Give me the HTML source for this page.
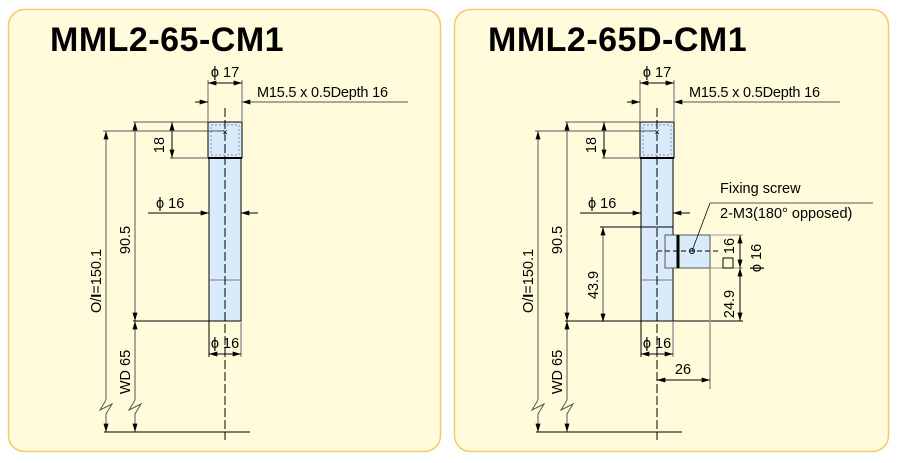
<!DOCTYPE html>
<html><head><meta charset="utf-8"><style>
html,body{margin:0;padding:0;background:#fff;}
svg{display:block;font-family:"Liberation Sans",sans-serif;}
</style></head><body>
<svg width="898" height="463" viewBox="0 0 898 463" xmlns="http://www.w3.org/2000/svg">
<defs>
<marker id="a" viewBox="0 0 10 6" refX="10" refY="3" markerWidth="9" markerHeight="5" orient="auto-start-reverse" markerUnits="userSpaceOnUse"><path d="M0,0 L10,3 L0,6 Z" fill="#000"/></marker>
<g id="base">
 <rect x="209" y="158" width="32" height="163" fill="#d9ebfb" stroke="#000" stroke-width="1"/>
 <rect x="208" y="122" width="34" height="36" fill="#d9ebfb" stroke="#000" stroke-width="1"/>
 <rect x="211" y="125" width="28" height="30" fill="none" stroke="#777" stroke-width="0.7" stroke-dasharray="2,2"/>
 <line x1="208" y1="158" x2="242" y2="158" stroke="#000" stroke-width="2"/>
 <text x="225" y="135" font-size="9" text-anchor="middle">×</text>
 <line x1="209" y1="280" x2="241" y2="280" stroke="#555" stroke-width="0.8"/>
 <line x1="225" y1="108" x2="225" y2="440" stroke="#000" stroke-width="1" stroke-dasharray="9,3"/>
 <line x1="208" y1="80" x2="208" y2="122" stroke="#999" stroke-width="1.5"/>
 <line x1="242" y1="80" x2="242" y2="122" stroke="#999" stroke-width="1.5"/>
 <line x1="208" y1="83" x2="242" y2="83" stroke="#000" marker-start="url(#a)" marker-end="url(#a)"/>
 <text x="225" y="77" font-size="14.5" text-anchor="middle">ϕ 17</text>
 <line x1="195" y1="102" x2="208" y2="102" stroke="#000" marker-end="url(#a)"/>
 <line x1="408" y1="102" x2="242" y2="102" stroke="#555" marker-end="url(#a)"/>
 <text x="257" y="97" font-size="14.5" letter-spacing="-0.2">M15.5 x 0.5Depth 16</text>
 <line x1="133" y1="122" x2="208" y2="122" stroke="#555"/>
 <line x1="170" y1="158" x2="208" y2="158" stroke="#555"/>
 <line x1="172" y1="122" x2="172" y2="158" stroke="#000" marker-start="url(#a)" marker-end="url(#a)"/>
 <text transform="translate(164,145) rotate(-90)" font-size="14.5" text-anchor="middle">18</text>
 <line x1="103" y1="131" x2="225" y2="131" stroke="#555"/>
 <line x1="106" y1="131" x2="106" y2="400" stroke="#555" marker-start="url(#a)"/>
 <polyline points="106,400 100,410 112,404 106,414 106,432" fill="none" stroke="#555"/>
 <line x1="106" y1="420" x2="106" y2="432" stroke="#555" marker-end="url(#a)"/>
 <text transform="translate(101,281) rotate(-90)" font-size="14.5" text-anchor="middle">O/<tspan font-weight="bold">I</tspan>=150.1</text>
 <line x1="135" y1="122" x2="135" y2="321" stroke="#555" marker-start="url(#a)" marker-end="url(#a)"/>
 <text transform="translate(130,240) rotate(-90)" font-size="14.5" text-anchor="middle">90.5</text>
 <line x1="133" y1="321" x2="241" y2="321" stroke="#000"/>
 <line x1="135" y1="321" x2="135" y2="400" stroke="#555" marker-start="url(#a)"/>
 <polyline points="135,400 129,410 141,404 135,414 135,432" fill="none" stroke="#555"/>
 <line x1="135" y1="420" x2="135" y2="432" stroke="#555" marker-end="url(#a)"/>
 <text transform="translate(130,372) rotate(-90)" font-size="14.5" text-anchor="middle">WD 65</text>
 <line x1="104" y1="432" x2="250" y2="432" stroke="#000"/>
 <line x1="148" y1="213" x2="209" y2="213" stroke="#000" marker-end="url(#a)"/>
 <line x1="258" y1="213" x2="241" y2="213" stroke="#000" marker-end="url(#a)"/>
 <text x="156" y="208" font-size="14.5">ϕ 16</text>
 <line x1="209" y1="321" x2="209" y2="357" stroke="#000"/>
 <line x1="241" y1="321" x2="241" y2="357" stroke="#999" stroke-width="1.5"/>
 <line x1="209" y1="354" x2="241" y2="354" stroke="#000" marker-start="url(#a)" marker-end="url(#a)"/>
 <text x="225" y="348" font-size="14.5" text-anchor="middle">ϕ 16</text>
</g>
</defs>
<rect x="0" y="0" width="898" height="463" fill="#fff"/>
<rect x="8.5" y="9.5" width="432" height="442" rx="16" fill="#fffbdb" stroke="#f6c86c" stroke-width="1.5"/>
<rect x="454.5" y="9.5" width="434" height="442" rx="16" fill="#fffbdb" stroke="#f6c86c" stroke-width="1.5"/>
<text x="50" y="51" font-size="34" font-weight="bold" letter-spacing="0.5">MML2-65-CM1</text>
<text x="488" y="51" font-size="34" font-weight="bold" letter-spacing="0.5">MML2-65D-CM1</text>
<use href="#base"/>
<g transform="translate(432,0)"><use href="#base"/></g>
<rect x="665" y="235" width="45" height="33" fill="#d9ebfb" stroke="#555" stroke-width="1"/>
<line x1="678" y1="235" x2="678" y2="268" stroke="#000" stroke-width="3"/>
<line x1="657" y1="251" x2="720" y2="251" stroke="#000" stroke-dasharray="5,3"/>
<circle cx="692" cy="251" r="2.5" fill="none" stroke="#000"/>
<line x1="692" y1="251" x2="710" y2="203" stroke="#000" stroke-width="0.8"/>
<line x1="710" y1="203" x2="873" y2="203" stroke="#555"/>
<text x="720" y="193" font-size="14.5">Fixing screw</text>
<text x="720" y="218" font-size="14.5">2-M3(180° opposed)</text>
<line x1="600" y1="227" x2="673" y2="227" stroke="#000"/>
<line x1="603" y1="227" x2="603" y2="322" stroke="#555" marker-start="url(#a)" marker-end="url(#a)"/>
<text transform="translate(598,285) rotate(-90)" font-size="14.5" text-anchor="middle">43.9</text>
<line x1="673" y1="321" x2="743" y2="321" stroke="#000"/>
<line x1="565" y1="321" x2="641" y2="321" stroke="#000"/>
<line x1="710" y1="235" x2="743" y2="235" stroke="#999"/>
<line x1="710" y1="268" x2="743" y2="268" stroke="#999"/>
<line x1="740" y1="235" x2="740" y2="268" stroke="#000" marker-start="url(#a)" marker-end="url(#a)"/>
<line x1="740" y1="268" x2="740" y2="321" stroke="#000" marker-start="url(#a)" marker-end="url(#a)"/>
<text transform="translate(734,246) rotate(-90)" font-size="14.5" text-anchor="middle">16</text>
<rect x="723" y="258" width="10" height="10" fill="none" stroke="#000"/>
<text transform="translate(761,258) rotate(-90)" font-size="14.5" text-anchor="middle">ϕ 16</text>
<text transform="translate(734,304) rotate(-90)" font-size="14.5" text-anchor="middle">24.9</text>
<line x1="710" y1="268" x2="710" y2="389" stroke="#999" stroke-width="1.5"/>
<line x1="657" y1="380" x2="710" y2="380" stroke="#000" marker-start="url(#a)" marker-end="url(#a)"/>
<text x="683" y="374" font-size="14.5" text-anchor="middle">26</text>
</svg>
</body></html>
